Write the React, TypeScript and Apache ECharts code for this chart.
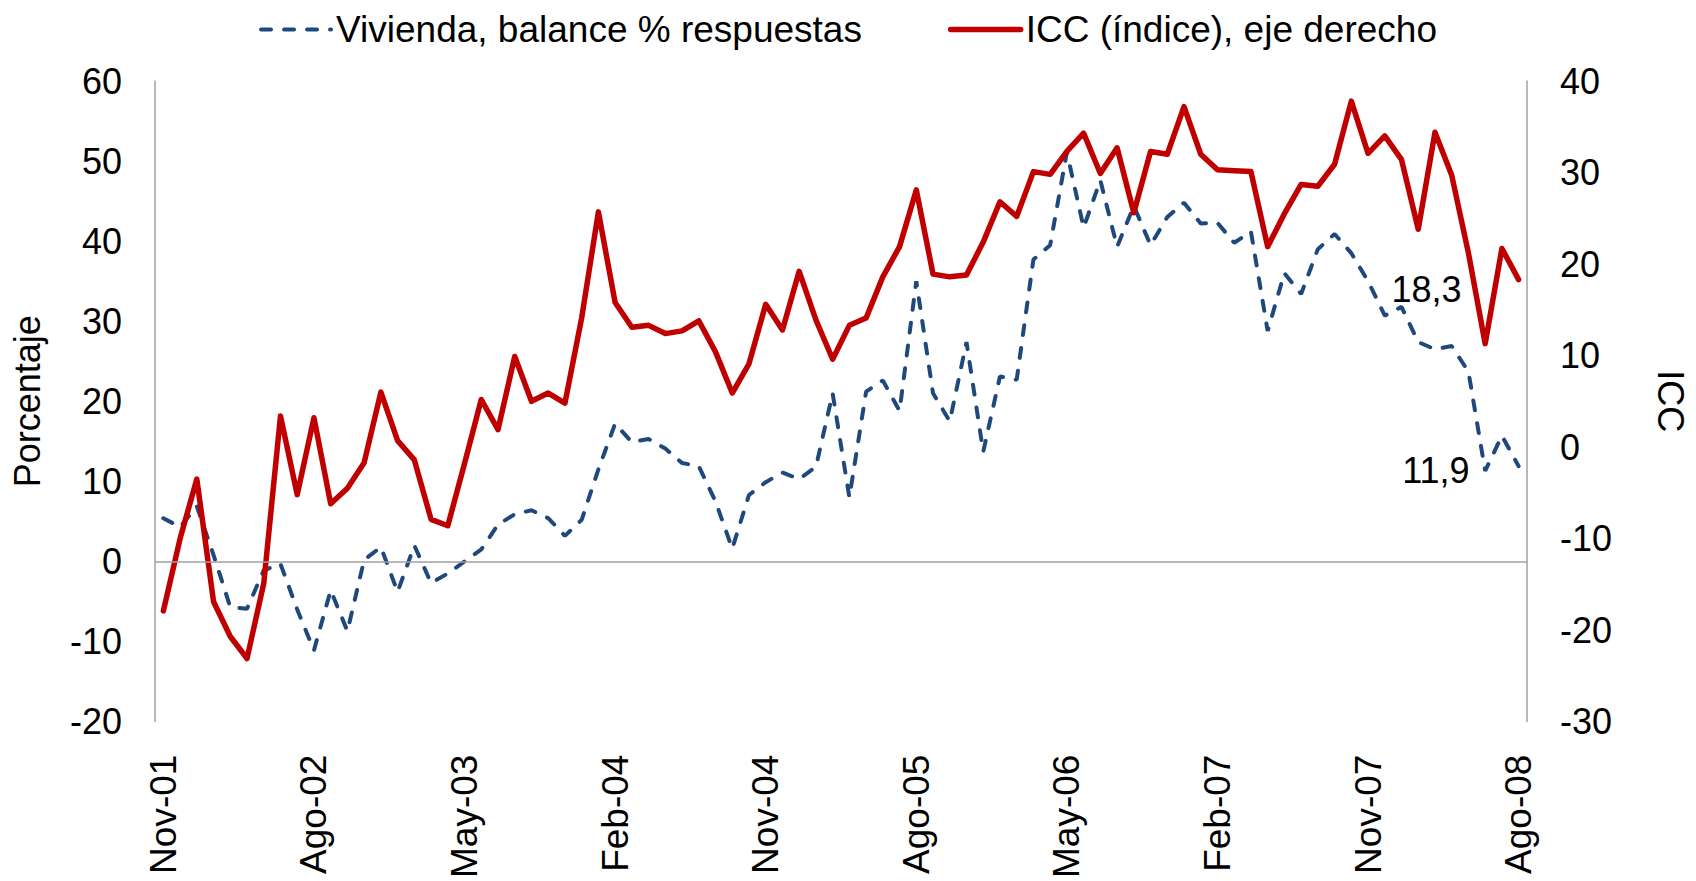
import React, { useEffect, useRef } from "react";
import * as echarts from "echarts";

const MONTHS = ["Ene", "Feb", "Mar", "Abr", "May", "Jun", "Jul", "Ago", "Sep", "Oct", "Nov", "Dic"];
const START_YEAR = 2001;
const START_MONTH = 10; // Nov
const N_POINTS = 82; // Nov-01 .. Ago-08

const categories: string[] = [];
for (let k = 0; k < N_POINTS; k++) {
  const m = (START_MONTH + k) % 12;
  const y = START_YEAR + Math.floor((START_MONTH + k) / 12);
  categories.push(`${MONTHS[m]}-${String(y % 100).padStart(2, "0")}`);
}

// Vivienda, balance % respuestas (left axis)
const vivienda: number[] = [
  5.4, 4.3, 6.9, 0.8, -5.7, -5.9, -1.1, -0.3, -6.0, -11.1,
  -3.6, -8.7, 0.2, 1.8, -3.8, 2.0, -2.7, -1.5, 0.0, 1.5,
  4.6, 5.9, 6.4, 5.4, 3.2, 5.2, 11.5, 17.2, 14.9, 15.3,
  14.1, 12.3, 11.9, 7.5, 1.6, 8.3, 9.9, 11.1, 10.3, 11.8,
  21.0, 8.0, 21.2, 22.6, 18.8, 35.0, 21.0, 17.5, 27.4, 13.7,
  23.1, 22.7, 37.7, 39.5, 51.1, 41.7, 47.6, 39.3, 44.4, 39.5,
  43.0, 44.8, 42.2, 42.3, 39.8, 41.2, 28.8, 36.0, 33.4, 39.0,
  40.9, 38.5, 35.0, 30.7, 31.8, 27.4, 26.5, 26.9, 23.7, 11.3,
  15.7, 11.9,
];

// ICC (índice), right axis
const icc: number[] = [
  -17.9, -10.0, -3.5, -16.9, -20.7, -23.1, -14.9, 3.4, -5.2, 3.2,
  -6.2, -4.5, -1.7, 6.0, 0.7, -1.4, -7.9, -8.6, -1.8, 5.2,
  1.9, 9.9, 5.0, 5.9, 4.8, 14.1, 25.7, 15.8, 13.1, 13.3,
  12.4, 12.7, 13.8, 10.4, 5.9, 9.1, 15.6, 12.8, 19.2, 13.9,
  9.6, 13.3, 14.1, 18.6, 21.9, 28.1, 18.9, 18.6, 18.8, 22.4,
  26.8, 25.2, 30.1, 29.8, 32.3, 34.3, 29.9, 32.7, 25.6, 32.3,
  32.0, 37.2, 32.0, 30.3, 30.2, 30.1, 21.9, 25.5, 28.7, 28.5,
  30.9, 37.8, 32.1, 34.0, 31.4, 23.8, 34.4, 29.7, 21.2, 11.3,
  21.7, 18.3,
];

const SERIES_NAMES = ["Vivienda, balance % respuestas", "ICC (índice), eje derecho"];
const LEFT_TICKS = { min: -20, max: 60, interval: 10 };
const RIGHT_TICKS = { min: -30, max: 40, interval: 10 };

const BLUE = "#1F497D";
const RED = "#C00000";
const AXIS_GRAY = "#A0A0A0";
const FONT = "'Liberation Sans', Arial, sans-serif";

const fmt = (v: number) => v.toFixed(1).replace(".", ",");

function withEndLabel(values: number[], offset: [number, number]) {
  return values.map((v, i) =>
    i === values.length - 1
      ? {
          value: v,
          label: {
            show: true,
            position: "left",
            formatter: () => fmt(v),
            fontSize: 36,
            color: "#000",
            fontFamily: FONT,
            offset,
          },
        }
      : v
  );
}

export default function App() {
  const ref = useRef<HTMLDivElement>(null);

  useEffect(() => {
    document.body.style.margin = "0";
    document.documentElement.style.overflow = "hidden";
    document.body.style.overflow = "hidden";
    if (!ref.current) return;
    const chart = echarts.init(ref.current, undefined, { renderer: "svg" });
    const axisLabel = { fontSize: 36, color: "#000", fontFamily: FONT, margin: 33 };
    chart.setOption({
      animation: false,
      textStyle: { fontFamily: FONT },
      legend: {
        top: 6,
        left: "center",
        itemWidth: 70,
        itemHeight: 20,
        itemGap: 86,
        textStyle: { fontSize: 37, color: "#000", fontFamily: FONT },
        itemStyle: { opacity: 0 },
        lineStyle: { width: "inherit" },
        data: SERIES_NAMES,
      },
      grid: { left: 155, right: 157, top: 81, bottom: 151 },
      xAxis: {
        type: "category",
        data: categories,
        boundaryGap: true,
        axisLine: { show: false },
        axisTick: { show: false },
        axisLabel: {
          interval: 8,
          rotate: 90,
          fontSize: 37,
          color: "#000",
          fontFamily: FONT,
          margin: 33,
        },
      },
      yAxis: [
        {
          type: "value",
          ...LEFT_TICKS,
          position: "left",
          name: "Porcentaje",
          nameLocation: "middle",
          nameGap: 110,
          nameTextStyle: { fontSize: 36, color: "#000", fontFamily: FONT },
          axisLine: { show: true, lineStyle: { color: AXIS_GRAY, width: 1.5 } },
          axisTick: { show: false },
          splitLine: { show: false },
          axisLabel,
        },
        {
          type: "value",
          ...RIGHT_TICKS,
          position: "right",
          name: "ICC",
          nameLocation: "middle",
          nameRotate: -90,
          nameGap: 125,
          nameTextStyle: { fontSize: 36, color: "#000", fontFamily: FONT },
          axisLine: { show: true, lineStyle: { color: AXIS_GRAY, width: 1.5 } },
          axisTick: { show: false },
          splitLine: { show: false },
          axisLabel: { ...axisLabel, align: "left" },
        },
      ],
      series: [
        {
          name: SERIES_NAMES[0],
          type: "line",
          yAxisIndex: 0,
          data: withEndLabel(vivienda, [-44, 4]),
          symbol: "circle",
          symbolSize: 0,
          showSymbol: true,
          lineStyle: { color: BLUE, width: 4, type: [10, 13], cap: "round" },
          itemStyle: { color: BLUE },
          markLine: {
            silent: true,
            symbol: ["none", "none"],
            label: { show: false },
            lineStyle: { color: AXIS_GRAY, width: 1.5, type: "solid" },
            data: [{ yAxis: 0 }],
          },
          z: 2,
        },
        {
          name: SERIES_NAMES[1],
          type: "line",
          yAxisIndex: 1,
          data: withEndLabel(icc, [-52, 10]),
          symbol: "circle",
          symbolSize: 0,
          showSymbol: true,
          lineStyle: { color: RED, width: 5.5, cap: "round", join: "round" },
          itemStyle: { color: RED },
          z: 3,
        },
      ],
    });
    return () => chart.dispose();
  }, []);

  return (
    <div
      ref={ref}
      style={{ position: "fixed", left: 0, top: 0, width: 1696, height: 881, background: "#fff" }}
    />
  );
}
